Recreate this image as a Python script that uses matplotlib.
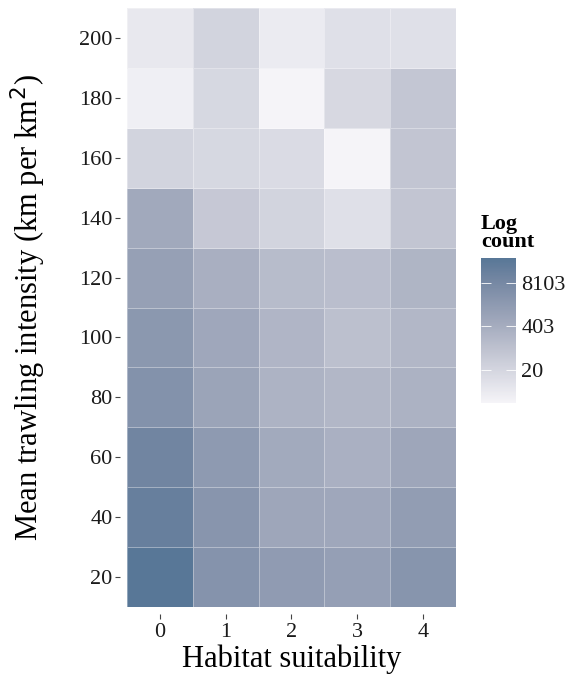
"""Heatmap of log counts by habitat suitability and mean trawling intensity."""

import matplotlib

matplotlib.use("Agg")

import matplotlib.pyplot as plt
import numpy as np
from matplotlib.colors import LinearSegmentedColormap, LogNorm


habitat = [0, 1, 2, 3, 4]
trawl_bins = [20, 40, 60, 80, 100, 120, 140, 160, 180, 200]

# counts per tile, rows follow trawl_bins (bottom to top), columns follow habitat
counts = [
    [44000, 3290, 1640, 1210, 2840],
    [19900, 2700, 665, 602, 1410],
    [10900, 1810, 493, 314, 665],
    [3640, 812, 245, 181, 270],
    [2210, 602, 211, 99, 181],
    [1100, 330, 134, 110, 221],
    [545, 52, 22, 9, 67],
    [22, 17, 13, 2, 67],
    [3, 17, 2, 16, 60],
    [5, 22, 4, 9, 9],
]

legend_ticks = [20, 403, 8103]

SERIF = "Liberation Serif"


def main():
    plt.rcParams["font.family"] = SERIF

    cmap = LinearSegmentedColormap.from_list(
        "logcount",
        [
            (0.0, "#f5f4f8"),
            (0.35, "#c2c5d2"),
            (0.58, "#9ea6ba"),
            (0.86, "#7285a1"),
            (1.0, "#587797"),
        ],
    )
    values = np.array(counts, dtype=float)
    norm = LogNorm(vmin=values.min(), vmax=values.max())

    fig = plt.figure(figsize=(5.67, 6.74), dpi=100)
    ax = fig.add_axes([0.224, 0.0994, 0.580, 0.8887])

    x_edges = np.append(np.array(habitat) - 0.5, habitat[-1] + 0.5)
    y_step = trawl_bins[1] - trawl_bins[0]
    y_edges = np.append(np.array(trawl_bins) - y_step / 2, trawl_bins[-1] + y_step / 2)
    mesh = ax.pcolormesh(
        x_edges, y_edges, values, cmap=cmap, norm=norm,
        edgecolors=(1, 1, 1, 0.35), linewidth=0.6,
    )

    ax.set_xlim(x_edges[0], x_edges[-1])
    ax.set_ylim(y_edges[0], y_edges[-1])
    ax.set_xticks(habitat)
    ax.set_yticks(trawl_bins)
    ax.tick_params(labelsize=16, colors="#444444", labelcolor="#1a1a1a",
                   length=3.5, width=0.8, pad=2)
    ax.tick_params(axis="x", pad=3)
    # ticks sit a little away from the tiles, as in the original
    ax.spines["left"].set_position(("outward", 5))
    ax.spines["bottom"].set_position(("outward", 5))
    for spine in ax.spines.values():
        spine.set_visible(False)

    ax.set_xlabel("Habitat suitability", fontsize=22, labelpad=2)
    ax.set_ylabel("Mean trawling intensity (km per km$^2$)", fontsize=22,
                  labelpad=22)

    cax = fig.add_axes([0.848, 0.402, 0.0617, 0.215])
    cbar = fig.colorbar(mesh, cax=cax)
    cbar.outline.set_visible(False)
    cbar.set_ticks(legend_ticks)
    cbar.set_ticklabels([str(t) for t in legend_ticks])
    cbar.minorticks_off()
    cax.tick_params(which="both", direction="in", color="white", length=7,
                    width=0.6, left=True, right=True, labelsize=16,
                    labelcolor="#1a1a1a", pad=4)

    fig.text(0.848, 0.626, "Log\ncount", fontsize=16, fontweight="bold",
             ha="left", va="bottom", linespacing=0.9)

    fig.savefig("out.png", dpi=100)
    plt.close(fig)


if __name__ == "__main__":
    main()
